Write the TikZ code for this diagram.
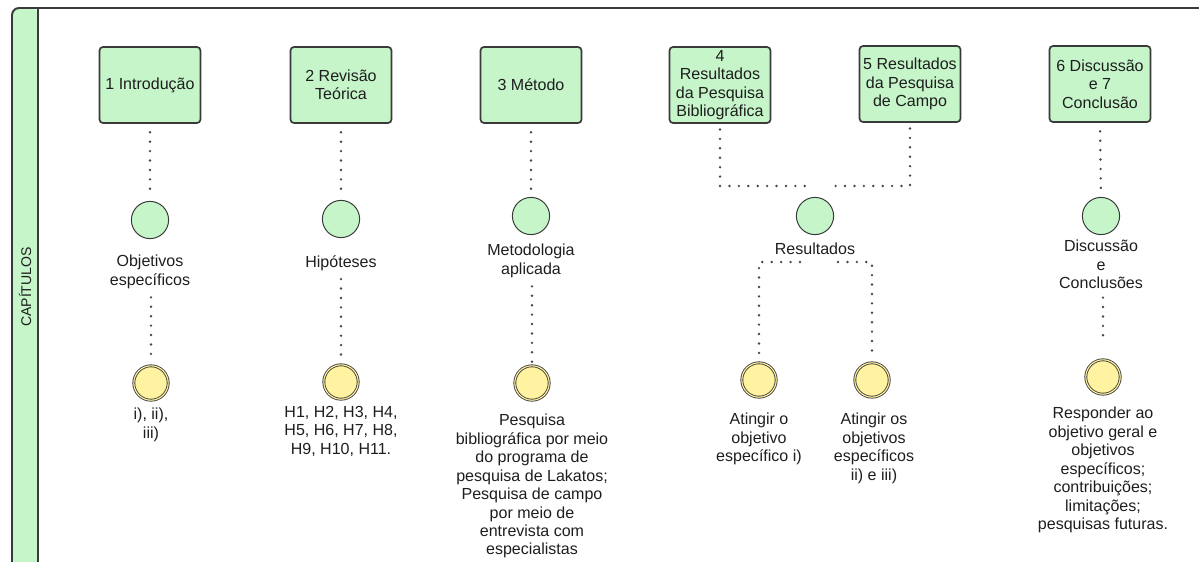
\documentclass[tikz,border=0pt]{standalone}
\usepackage{fontspec}
\setmainfont{Liberation Sans}
\usepackage{tikz}
\usetikzlibrary{calc}

\definecolor{edge}{RGB}{58,58,58}
\definecolor{dotgray}{RGB}{70,70,70}
\definecolor{boxgreen}{RGB}{197,245,201}
\definecolor{goalyellow}{RGB}{255,242,160}
\definecolor{ink}{RGB}{30,30,30}

\begin{document}
\begin{tikzpicture}[x=0.025cm, y=-0.025cm,
    every node/.style={text=ink, font=\fontsize{11.4}{13.1}\selectfont},
    chapter/.style={draw=edge, fill=boxgreen, rounded corners=2.5pt, line width=1.2pt,
      minimum width=2.525cm, minimum height=1.9cm, align=center, inner sep=2pt},
    topic/.style={circle, draw=edge, fill=boxgreen, line width=0.7pt, minimum size=0.93cm},
    goal/.style={circle, draw=edge, double=goalyellow, double distance=0.8pt,
      line width=0.6pt, fill=goalyellow, minimum size=0.86cm},
    note/.style={align=center, inner sep=0pt, anchor=north},
    dots/.style={draw=dotgray, line width=1.9pt, line cap=round,
      dash pattern=on 0pt off 6.7pt}]
    \useasboundingbox (0,0) rectangle (1199,561);
    \clip (0,0) rectangle (1199,561);

    % lane
    \fill[boxgreen, rounded corners=5pt] (12,580) -- (12,8) -- (38,8) -- (38,580) -- cycle;
    \draw[edge, line width=1.4pt, rounded corners=5pt] (12,580) -- (12,8) -- (1215,8);
    \draw[edge, line width=1.4pt] (38,8) -- (38,580);
    \node[rotate=90, font=\fontsize{10}{12}\selectfont] (lane) at (25,287) {CAPÍTULOS};

    % chapters
    \node[chapter] (intro) at (150,85) {1 Introdução};
    \node[chapter] (revisao) at (341,85) {2 Revisão\\Teórica};
    \node[chapter] (metodo) at (531,85) {3 Método};
    \node[chapter] (resbib) at (720,85) {4\\Resultados\\da Pesquisa\\Bibliográfica};
    \node[chapter] (rescampo) at (910,84) {5 Resultados\\da Pesquisa\\de Campo};
    \node[chapter] (discussao) at (1100,84) {6 Discussão\\e 7\\Conclusão};

    % topics
    \node[topic] (objetivos) at (150,220) {};
    \node[topic] (hipoteses) at (341,219) {};
    \node[topic] (metodologia) at (531,216) {};
    \node[topic] (resultados) at (815,216) {};
    \node[topic] (conclusoes) at (1101,216) {};

    \node[note] (objetivoslab) at (150,255) {Objetivos\\específicos};
    \node[note] (hipoteseslab) at (341,255) {Hipóteses};
    \node[note] (metodologialab) at (531,244) {Metodologia\\aplicada};
    \node[note] (resultadoslab) at (815,243) {Resultados};
    \node[note] (conclusoeslab) at (1101,240) {Discussão\\e\\Conclusões};

    % goals
    \node[goal] (objetivosgoal) at (151,383) {};
    \node[goal] (hipotesesgoal) at (341,382) {};
    \node[goal] (metodologiagoal) at (532,383) {};
    \node[goal] (bibgoal) at (759,380) {};
    \node[goal] (campogoal) at (872,380) {};
    \node[goal] (conclusoesgoal) at (1103,377) {};

    \node[note] (objetivosgoallab) at (151,408) {i), ii),\\iii)};
    \node[note] (hipotesesgoallab) at (341,406) {H1, H2, H3, H4,\\H5, H6, H7, H8,\\H9, H10, H11.};
    \node[note] (metodologiagoallab) at (532,414) {Pesquisa\\bibliográfica por meio\\do programa de\\pesquisa de Lakatos;\\Pesquisa de campo\\por meio de\\entrevista com\\especialistas};
    \node[note] (bibgoallab) at (759,413) {Atingir o\\objetivo\\específico i)};
    \node[note] (campogoallab) at (874,413) {Atingir os\\objetivos\\específicos\\ii) e iii)};
    \node[note] (conclusoesgoallab) at (1103,407) {Responder ao\\objetivo geral e\\objetivos\\específicos;\\contribuições;\\limitações;\\pesquisas futuras.};

    % dotted links
    \coordinate (joinl) at (808,186);
    \coordinate (joinr) at (833,186);
    \coordinate (splitl) at (800,262);
    \coordinate (splitr) at (838,262);

    \draw[dots, shorten <=6pt, shorten >=4pt] (intro.south) -- (objetivos.north);
    \draw[dots, shorten <=6pt, shorten >=4pt] (revisao.south) -- (hipoteses.north);
    \draw[dots, shorten <=6pt, shorten >=4pt] (metodo.south) -- (metodologia.north);
    \draw[dots, shorten <=6pt, shorten >=4pt] (discussao.south) -- (conclusoes.north);
    \draw[dots, shorten <=4pt] (resbib.south) |- (joinl);
    \draw[dots, shorten <=4pt] (rescampo.south) |- (joinr);

    \draw[dots, shorten <=6pt, shorten >=2pt] (objetivosgoal.north |- objetivoslab.south) -- (objetivosgoal.north);
    \draw[dots, shorten <=6pt, shorten >=2pt] (hipotesesgoal.north |- hipoteseslab.south) -- (hipotesesgoal.north);
    \draw[dots, shorten <=6pt, shorten >=2pt] (metodologiagoal.north |- metodologialab.south) -- (metodologiagoal.north);
    \draw[dots, shorten <=6pt, shorten >=12pt] (conclusoesgoal.north |- conclusoeslab.south) -- (conclusoesgoal.north);
    \draw[dots, shorten >=2pt] (splitl) -| (bibgoal.north);
    \draw[dots, shorten >=2pt] (splitr) -| (campogoal.north);
\end{tikzpicture}
\end{document}
